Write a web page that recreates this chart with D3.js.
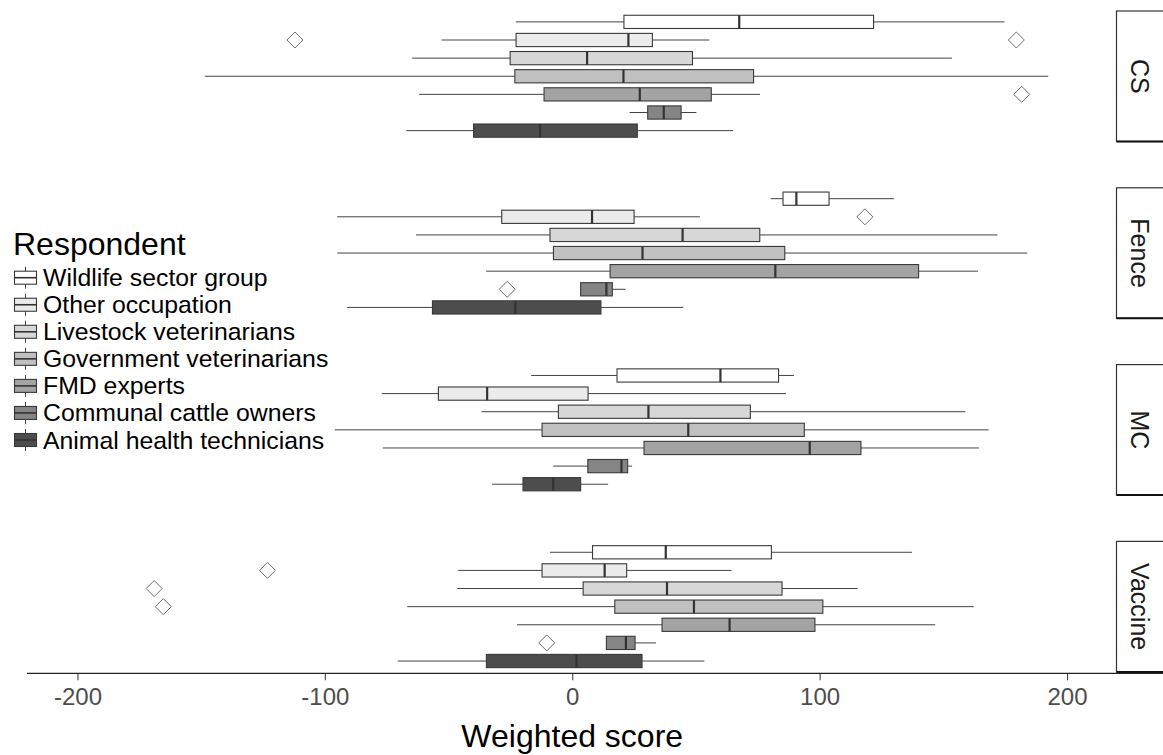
<!DOCTYPE html>
<html>
<head>
<meta charset="utf-8">
<script src="https://cdn.jsdelivr.net/npm/d3@7"></script>
<style>
  html, body { margin: 0; padding: 0; background: #fff; }
  svg { display: block; font-family: "Liberation Sans", Arial, sans-serif; }
</style>
</head>
<body>
<svg id="chart" width="1163" height="755"></svg>
<script>
// ---------------- DATA ----------------
const facets = ["CS", "Fence", "MC", "Vaccine"];
const respondents = [
  "Wildlife sector group",
  "Other occupation",
  "Livestock veterinarians",
  "Government veterinarians",
  "FMD experts",
  "Communal cattle owners",
  "Animal health technicians"
];
const fillGreys = ["#ffffff", "#ebebeb", "#d7d7d7", "#c0c0c0", "#a3a3a3", "#858585", "#4d4d4d"];

// [lower whisker, Q1, median, Q3, upper whisker] per respondent (same order as respondents)
const csStats = [
  [-22.8, 20.9, 67.5, 121.8, 174.7],
  [-52.8, -22.7, 22.7, 32.4, 55.4],
  [-64.7, -25.1, 6.0, 48.6, 153.5],
  [-148.5, -23.2, 20.7, 73.3, 192.4],
  [-61.9, -11.4, 27.3, 56.2, 75.9],
  [23.2, 30.5, 37.0, 44.0, 50.2],
  [-67.1, -39.9, -13.0, 26.3, 65.0]
];
const fenceStats = [
  [80.2, 85.2, 90.6, 103.8, 130.0],
  [-95.0, -28.5, 8.0, 25.0, 51.6],
  [-63.2, -9.0, 44.6, 75.8, 171.9],
  [-95.0, -7.6, 28.4, 85.9, 183.9],
  [-34.8, 15.3, 82.1, 140.0, 164.0],
  [3.4, 3.4, 13.8, 16.2, 21.6],
  [-91.0, -56.5, -23.0, 11.6, 44.9]
];
const mcStats = [
  [-16.6, 18.1, 59.9, 83.4, 89.6],
  [-77.0, -54.1, -34.4, 6.4, 86.4],
  [-36.7, -5.6, 30.8, 72.0, 158.9],
  [-96.0, -12.2, 46.9, 93.8, 168.3],
  [-76.6, 29.0, 96.0, 116.7, 164.4],
  [-7.7, 6.3, 19.9, 22.4, 24.2],
  [-32.4, -19.9, -7.7, 3.4, 14.5]
];
const vaccineStats = [
  [-9.0, 8.2, 37.8, 80.5, 137.3],
  [-46.1, -12.2, 13.1, 22.0, 64.4],
  [-46.5, 4.4, 38.3, 84.8, 115.4],
  [-66.7, 17.2, 49.2, 101.3, 162.3],
  [-22.3, 36.3, 63.6, 98.1, 146.7],
  [13.8, 13.8, 21.7, 25.4, 33.9],
  [-70.5, -34.7, 1.7, 28.2, 53.4]
];
const statsByFacet = [csStats, fenceStats, mcStats, vaccineStats];

// outliers: [facet, respondent index, value]
const outlierFacet = ["CS", "CS", "CS", "Fence", "Fence", "Vaccine", "Vaccine", "Vaccine", "Vaccine"];
const outlierResp  = [1, 1, 4, 1, 5, 1, 2, 3, 5];
const outlierValue = [-112.1, 179.5, 181.7, 118.3, -26.3, -123.2, -169.0, -165.3, -10.3];

const xTicks = [-200, -100, 0, 100, 200];
const xDomain = [-220.4, 220];

// ---------------- LAYOUT ----------------
const svg = d3.select("#chart");
const plotLeft = 27, plotRight = 1116.5;
const panelTop0 = 11, panelH = 130.5, panelGap = 46.3;
const stripW = 60;

const x = d3.scaleLinear().domain(xDomain).range([plotLeft, plotRight]);

const panelY = d3.scaleBand().domain(facets)
  .range([panelTop0, panelTop0 + 4 * panelH + 3 * panelGap])
  .paddingInner(panelGap / (panelH + panelGap)).paddingOuter(0);

const boxFrac = 0.73;

facets.forEach((f, fi) => {
  const top = panelY(f), bh = panelY.bandwidth();
  const y = d3.scalePoint().domain(respondents).range([top, top + bh]).padding(0.6);
  const step = y.step();
  const bhalf = step * boxFrac / 2;
  const g = svg.append("g");
  const stats = statsByFacet[fi];

  respondents.forEach((r, ri) => {
    const [lo, q1, med, q3, hi] = stats[ri];
    const cy = y(r);
    // whiskers
    if (lo < q1) g.append("line").attr("x1", x(lo)).attr("x2", x(q1)).attr("y1", cy).attr("y2", cy)
      .attr("stroke", "#444").attr("stroke-width", 1);
    if (hi > q3) g.append("line").attr("x1", x(q3)).attr("x2", x(hi)).attr("y1", cy).attr("y2", cy)
      .attr("stroke", "#444").attr("stroke-width", 1);
    // box
    g.append("rect").attr("x", x(q1)).attr("y", cy - bhalf)
      .attr("width", x(q3) - x(q1)).attr("height", 2 * bhalf)
      .attr("fill", fillGreys[ri]).attr("stroke", "#3a3a3a").attr("stroke-width", 1.1);
    // median
    g.append("line").attr("x1", x(med)).attr("x2", x(med))
      .attr("y1", cy - bhalf).attr("y2", cy + bhalf)
      .attr("stroke", "#333").attr("stroke-width", 2.2);
  });

  // outliers
  outlierFacet.forEach((of, oi) => {
    if (of !== f) return;
    const cx = x(outlierValue[oi]), cy = y(respondents[outlierResp[oi]]);
    const s = 8;
    g.append("path")
      .attr("d", `M${cx},${cy - s}L${cx + s},${cy}L${cx},${cy + s}L${cx - s},${cy}Z`)
      .attr("fill", "#fff").attr("stroke", "#6a6a6a").attr("stroke-width", 1);
  });

  // strip
  svg.append("rect").attr("x", plotRight).attr("y", top).attr("width", stripW).attr("height", bh)
    .attr("fill", "#fff").attr("stroke", "#333").attr("stroke-width", 1.2);
  svg.append("line").attr("x1", plotRight).attr("x2", plotRight + stripW)
    .attr("y1", top + bh).attr("y2", top + bh).attr("stroke", "#111").attr("stroke-width", 2);
  svg.append("text")
    .attr("transform", `translate(${plotRight + 23},${top + bh / 2}) rotate(90)`)
    .attr("text-anchor", "middle").attr("dominant-baseline", "central")
    .attr("font-size", 25).attr("fill", "#1a1a1a").text(f);
});

// ---------------- X AXIS ----------------
const axisY = 673.3;
const axis = d3.axisBottom(x).tickValues(xTicks).tickSize(7).tickPadding(8)
  .tickFormat(d => d);
const ag = svg.append("g").attr("transform", `translate(0,${axisY})`).call(axis);
ag.select(".domain").remove();
ag.append("line").attr("x1", plotLeft).attr("x2", 1163).attr("y1", 0).attr("y2", 0)
  .attr("stroke", "#222").attr("stroke-width", 1.2);
ag.selectAll(".tick line").attr("stroke", "#444").attr("stroke-width", 1.1);
ag.selectAll(".tick text").attr("font-size", 24).attr("fill", "#4d4d4d")
  .attr("font-family", "Liberation Sans, Arial, sans-serif");

svg.append("text").attr("x", x(0)).attr("y", 747)
  .attr("text-anchor", "middle").attr("font-size", 32).attr("fill", "#000")
  .text("Weighted score");

// ---------------- LEGEND ----------------
svg.append("text").attr("x", 13).attr("y", 255).attr("font-size", 32).attr("fill", "#000")
  .text("Respondent");

const legY = d3.scalePoint().domain(respondents).range([277.7, 440]);
respondents.forEach((r, ri) => {
  const cy = legY(r);
  const lg = svg.append("g");
  lg.append("line").attr("x1", 25.5).attr("x2", 25.5).attr("y1", cy - 11).attr("y2", cy + 11)
    .attr("stroke", "#444").attr("stroke-width", 1);
  lg.append("rect").attr("x", 14.5).attr("y", cy - 6.5).attr("width", 22).attr("height", 13)
    .attr("fill", fillGreys[ri]).attr("stroke", "#3a3a3a").attr("stroke-width", 1.1);
  lg.append("line").attr("x1", 14.5).attr("x2", 36.5).attr("y1", cy).attr("y2", cy)
    .attr("stroke", "#333").attr("stroke-width", 1.6);
  lg.append("text").attr("x", 43).attr("y", cy + 8.5).attr("font-size", 24.8).attr("fill", "#000")
    .text(r);
});
</script>
</body>
</html>
